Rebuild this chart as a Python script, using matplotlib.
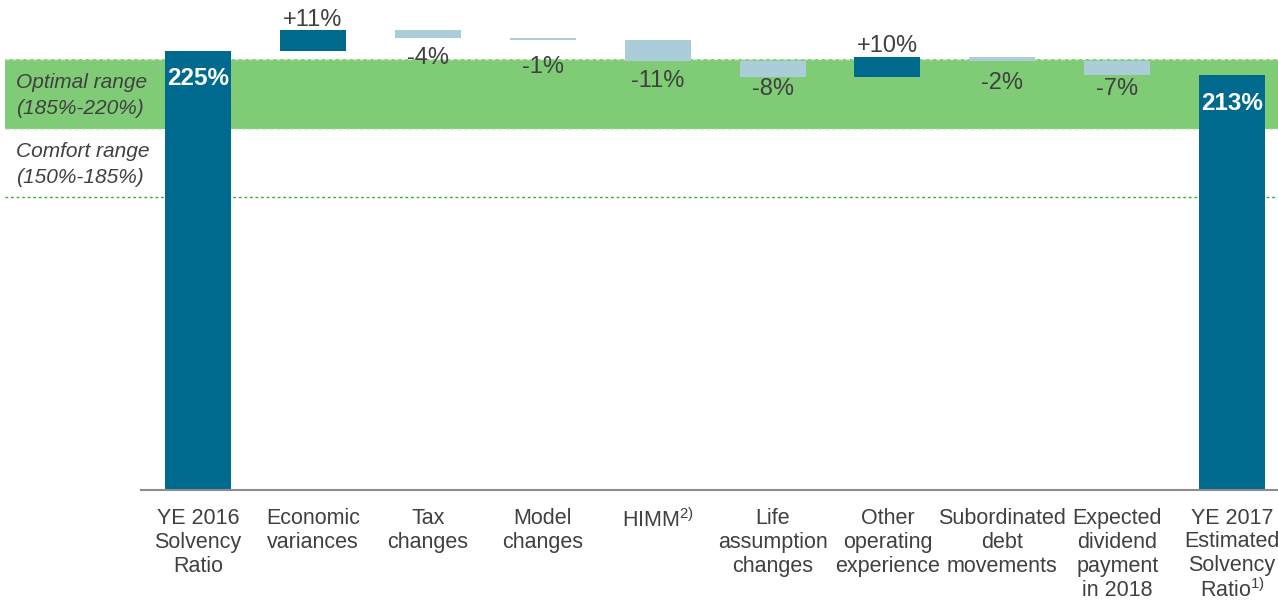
import matplotlib
matplotlib.use("Agg")
import matplotlib.pyplot as plt
import numpy as np

plt.rcParams['font.family'] = ['Liberation Sans', 'DejaVu Sans']
plt.rcParams['mathtext.fontset'] = 'custom'
plt.rcParams['mathtext.rm'] = 'Liberation Sans'
plt.rcParams['mathtext.it'] = 'Liberation Sans:italic'

# ---- data ----
categories = ["YE 2016\nSolvency\nRatio", "Economic\nvariances", "Tax\nchanges", "Model\nchanges",
              "HIMM$^{\\mathrm{2)}}$", "Life\nassumption\nchanges", "Other\noperating\nexperience",
              "Subordinated\ndebt\nmovements", "Expected\ndividend\npayment\nin 2018",
              "YE 2017\nEstimated\nSolvency\nRatio$^{\\mathrm{1)}}$"]
start_value = 225
changes = [11, -4, -1, -11, -8, 10, -2, -7]
end_value = 213
change_labels = ["+11%", "-4%", "-1%", "-11%", "-8%", "+10%", "-2%", "-7%"]
total_labels = ["225%", "213%"]
optimal_range = (185, 221)
comfort_low = 150.5
band_labels = [["Optimal range", "(185%-220%)"], ["Comfort range", "(150%-185%)"]]

# style: label baseline distance from bar end (pixels)
label_gap_px = [4, 26, 33, 26, 18, 5, 28, 20]

DARK = "#006A8E"
LIGHT = "#ABCDD9"
GREEN = "#80CC76"
TEXT = "#404040"

W, H = 1278, 601
fig = plt.figure(figsize=(W/100, H/100), dpi=100)
ax_left, ax_right, ax_bottom = 141, 1278, 490
ax = fig.add_axes([ax_left/W, 1 - ax_bottom/H, (ax_right-ax_left)/W, ax_bottom/H])

spacing = 114.9
c0 = 198
ax.set_xlim((ax_left - c0)/spacing, (ax_right - c0)/spacing)
ax.set_ylim(0, 251.3)
bw = 66/spacing
px2pt = 72/100

# band and comfort line
x_band0 = (5 - ax_left)/(ax_right - ax_left)
ax.axhspan(optimal_range[0], optimal_range[1], xmin=x_band0, xmax=1, color=GREEN, lw=0, zorder=0, clip_on=False)
for yv in optimal_range:
    ax.plot([x_band0, 1], [yv, yv], transform=ax.get_yaxis_transform(), color="#D8EED3",
            lw=1, ls=(0, (3, 2)), zorder=0.5, clip_on=False)
ax.plot([x_band0, 1], [comfort_low, comfort_low], transform=ax.get_yaxis_transform(), color="#3DAA35",
        lw=1, ls=(0, (2, 2)), zorder=0.5, clip_on=False)

# bars
x = np.arange(len(categories))
ax.bar(x[0], start_value, width=bw, color=DARK, zorder=2)
level = start_value
for i, ch in enumerate(changes):
    xi = x[i+1]
    bottom = level if ch > 0 else level + ch
    ax.bar(xi, abs(ch), bottom=bottom, width=bw, color=DARK if ch > 0 else LIGHT, zorder=2)
    g = label_gap_px[i] * px2pt
    if ch > 0:
        ax.annotate(change_labels[i], (xi, level + ch), xytext=(0, g), textcoords="offset points",
                    ha="center", va="baseline", fontsize=17, color=TEXT)
    else:
        ax.annotate(change_labels[i], (xi, level + ch), xytext=(0, -g), textcoords="offset points",
                    ha="center", va="baseline", fontsize=17, color=TEXT)
    level += ch
ax.bar(x[-1], end_value, width=bw, color=DARK, zorder=2)

ax.annotate(total_labels[0], (x[0], start_value), xytext=(0, -34*px2pt), textcoords="offset points",
            ha="center", va="baseline", fontsize=17.5, color="white", fontweight="bold", zorder=3)
ax.annotate(total_labels[1], (x[-1], end_value), xytext=(0, -35*px2pt), textcoords="offset points",
            ha="center", va="baseline", fontsize=17.5, color="white", fontweight="bold", zorder=3)

# band labels
for (l1, l2), b1 in zip(band_labels, [88, 157]):
    fig.text(16/W, 1 - b1/H, l1, fontsize=15, style="italic", color=TEXT, va="baseline", ha="left")
    fig.text(16/W, 1 - (b1 + 26)/H, l2, fontsize=15, style="italic", color=TEXT, va="baseline", ha="left")

# category labels
ax.set_xticks([])
for i, lab in enumerate(categories):
    ls = 1.15 if i == len(categories) - 1 else 1.19
    ax.annotate(lab, (x[i], 0), xycoords=("data", "axes fraction"), xytext=(0, -13),
                textcoords="offset points", ha="center", va="top", fontsize=15.5, color=TEXT,
                linespacing=ls, multialignment="center", annotation_clip=False)

ax.set_yticks([])
for s in ["top", "right", "left"]:
    ax.spines[s].set_visible(False)
ax.spines["bottom"].set_color("#8C8C8C")
ax.spines["bottom"].set_linewidth(1.5)
ax.patch.set_alpha(0)

fig.savefig("out.png", dpi=100)
